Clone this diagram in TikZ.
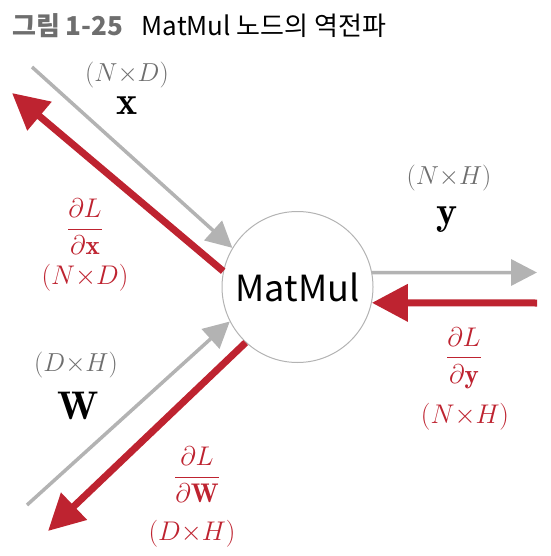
\documentclass[tikz,border=0pt]{standalone}
\usepackage{fix-cm}
\usepackage{amsmath}
\usepackage{fontspec}
\usetikzlibrary{arrows.meta}
\newfontfamily\krfont{Noto Sans CJK KR}
\definecolor{fwdgray}{HTML}{B3B3B3}
\definecolor{dimgray}{HTML}{6E6E6E}
\definecolor{bwdred}{HTML}{BE2330}
\newcommand{\by}{\mathord{\times}}

\begin{document}
\begin{tikzpicture}[x=1pt,y=-1pt,
    fwd/.style={draw=fwdgray,line width=3.5pt,-{Triangle[length=26pt,width=26pt]}},
    bwd/.style={draw=bwdred,line width=7pt,-{Triangle[length=36pt,width=36pt]}},
    dimlbl/.style={text=dimgray,inner sep=0pt,font=\fontsize{26}{30}\selectfont},
    vec/.style={inner sep=0pt,font=\fontsize{40}{44}\selectfont},
    grad/.style={text=bwdred,inner sep=0pt,font=\fontsize{27}{31}\selectfont}]
  \useasboundingbox (0,0) rectangle (550,556);
  \node[anchor=base west,inner sep=0pt,font=\krfont\fontsize{26}{30}\selectfont] (title) at (12,36)
    {\textcolor{dimgray}{\bfseries 그림 1-25}\hspace{0.7em}MatMul 노드의 역전파};
  \node[circle,draw=fwdgray,line width=1pt,minimum size=151pt,inner sep=0pt,
    font=\krfont\fontsize{36}{40}\selectfont] (mm) at (297.5,287) {MatMul};
  % free ends
  \coordinate (xin) at (32,67);
  \coordinate (xgrad) at (12,93);
  \coordinate (win) at (27,505);
  \coordinate (wgrad) at (48,531);
  \coordinate (yout) at (537,272.5);
  \coordinate (ygrad) at (537,303);
  % forward and backward
  \draw[fwd] (xin) -- (mm.149);
  \draw[bwd] (mm.168) -- (xgrad);
  \draw[fwd] (win) -- (mm.207);
  \draw[bwd] (mm.227) -- (wgrad);
  \draw[fwd] (mm.11) -- (yout);
  \draw[bwd] (ygrad) -- (mm.348);
  % labels
  \node[dimlbl] (xdim) at (127,75) {$(N\by D)$};
  \node[vec] (xvec) at (127,106) {$\mathbf{x}$};
  \node[dimlbl] (ydim) at (449,178) {$(N\by H)$};
  \node[vec] (yvec) at (447,220) {$\mathbf{y}$};
  \node[dimlbl] (wdim) at (76,365) {$(D\by H)$};
  \node[vec] (wvec) at (78,406) {$\mathbf{W}$};
  \node[grad] (dx) at (85,227) {$\dfrac{\partial L}{\partial\mathbf{x}}$};
  \node[grad] (dxdim) at (85,278) {$(N\by D)$};
  \node[grad] (dy) at (464,358) {$\dfrac{\partial L}{\partial\mathbf{y}}$};
  \node[grad] (dydim) at (465,417) {$(N\by H)$};
  \node[grad] (dw) at (197,475) {$\dfrac{\partial L}{\partial\mathbf{W}}$};
  \node[grad] (dwdim) at (192,534) {$(D\by H)$};
\end{tikzpicture}
\end{document}
